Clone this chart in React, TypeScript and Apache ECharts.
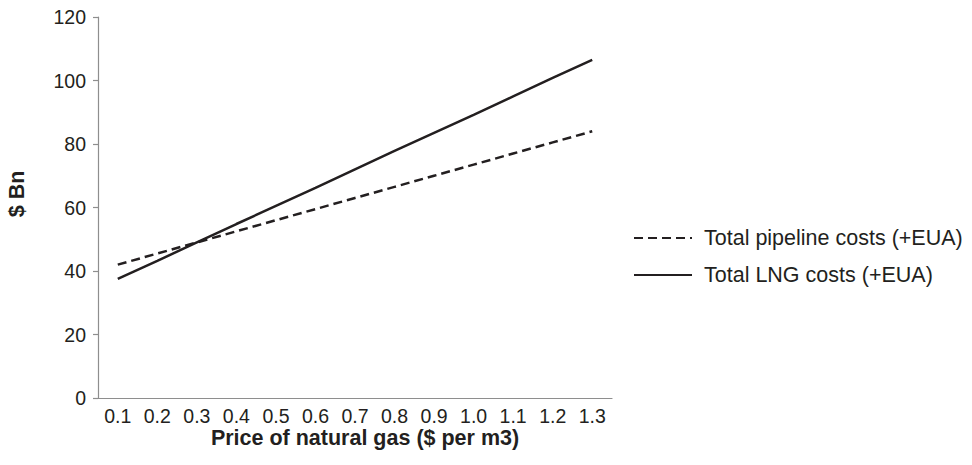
import React, { useEffect, useRef } from "react";
import * as echarts from "echarts";

const categories = ["0.1", "0.2", "0.3", "0.4", "0.5", "0.6", "0.7", "0.8", "0.9", "1.0", "1.1", "1.2", "1.3"];
const pipelineCosts = [42.0, 45.5, 49.0, 52.5, 56.0, 59.5, 63.0, 66.5, 70.0, 73.5, 77.0, 80.5, 84.0];
const lngCosts = [37.5, 43.2, 49.0, 54.8, 60.5, 66.2, 72.0, 77.8, 83.5, 89.2, 95.0, 100.8, 106.5];
const seriesNames = ["Total pipeline costs (+EUA)", "Total LNG costs (+EUA)"];
const xTitle = "Price of natural gas ($ per m3)";
const yTitle = "$ Bn";

const FONT = "'Liberation Sans', Arial, Helvetica, sans-serif";
const INK = "#231f20";
const AXIS = "#8e8e8e";

export default function App() {
  const ref = useRef<HTMLDivElement>(null);
  useEffect(() => {
    document.body.style.margin = "0";
    const chart = echarts.init(ref.current!, null, { renderer: "svg" });
    chart.setOption({
      animation: false,
      backgroundColor: "#ffffff",
      textStyle: { fontFamily: FONT, color: INK },
      grid: { left: 98, right: 360, top: 17, bottom: 67, containLabel: false },
      legend: {
        orient: "vertical",
        left: 633,
        top: 226,
        padding: 0,
        itemGap: 13,
        itemWidth: 58,
        itemHeight: 14,
        data: seriesNames,
        itemStyle: { opacity: 0 },
        textStyle: { fontFamily: FONT, fontSize: 21.5, color: INK, lineHeight: 24, padding: [0, 0, 0, 7] },
      },
      xAxis: {
        type: "category",
        data: categories,
        boundaryGap: true,
        axisLine: { lineStyle: { color: AXIS, width: 1.2 } },
        axisTick: { alignWithLabel: true, inside: true, length: 4, lineStyle: { color: AXIS, width: 1.2 } },
        axisLabel: { fontFamily: FONT, fontSize: 19.5, color: INK, margin: 8, interval: 0 },
        splitLine: { show: false },
      },
      yAxis: {
        type: "value",
        min: 0,
        max: 120,
        interval: 20,
        axisLine: { show: true, lineStyle: { color: AXIS, width: 1.2 } },
        axisTick: { show: true, inside: false, length: 5, lineStyle: { color: AXIS, width: 1.2 } },
        axisLabel: { fontFamily: FONT, fontSize: 19.5, color: INK, margin: 12 },
        splitLine: { show: false },
      },
      graphic: [
        {
          type: "text",
          x: 365,
          y: 438,
          style: {
            text: xTitle,
            fontFamily: FONT,
            fontSize: 21.5,
            fontWeight: "bold",
            fill: INK,
            textAlign: "center",
            textVerticalAlign: "middle",
          },
        },
        {
          type: "text",
          x: 17,
          y: 194,
          rotation: Math.PI / 2,
          style: {
            text: yTitle,
            fontFamily: FONT,
            fontSize: 21.5,
            fontWeight: "bold",
            fill: INK,
            textAlign: "center",
            textVerticalAlign: "middle",
          },
        },
      ],
      series: [
        {
          name: seriesNames[0],
          type: "line",
          data: pipelineCosts,
          symbol: "none",
          lineStyle: { color: INK, width: 2.5, type: [9, 5] },
          itemStyle: { color: INK },
        },
        {
          name: seriesNames[1],
          type: "line",
          data: lngCosts,
          symbol: "none",
          lineStyle: { color: INK, width: 2.5, type: "solid" },
          itemStyle: { color: INK },
        },
      ],
    });
    return () => chart.dispose();
  }, []);
  return <div ref={ref} style={{ width: 972, height: 465 }} />;
}
